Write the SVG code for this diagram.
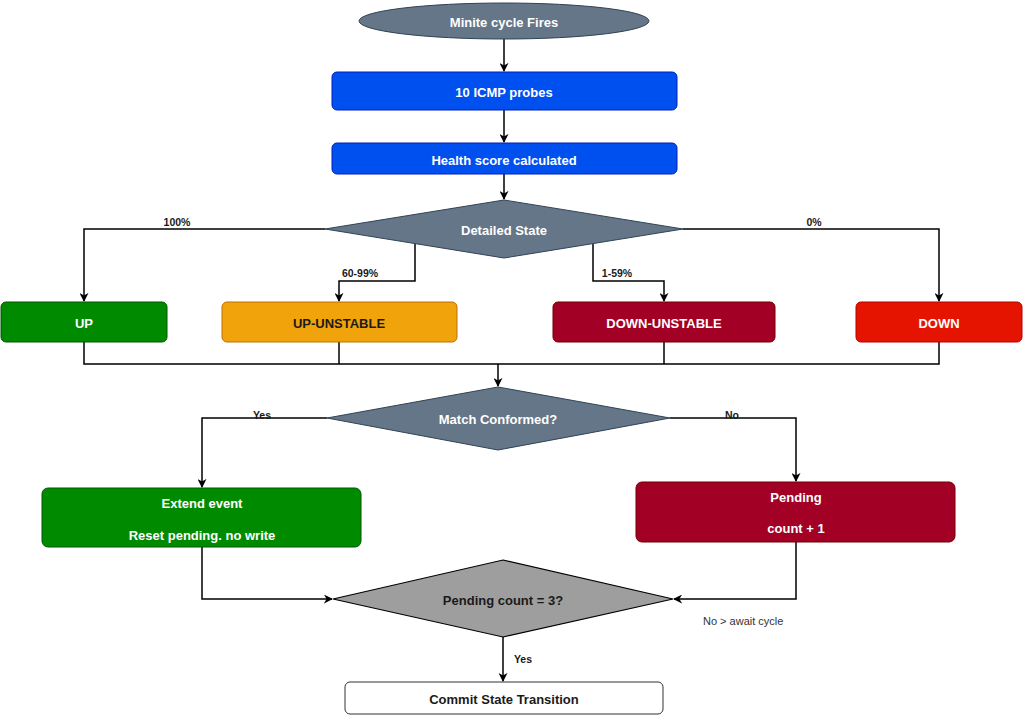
<svg xmlns="http://www.w3.org/2000/svg" width="1024" height="715" viewBox="0 0 1024 715">
<style>
text{font-family:"Liberation Sans",Arial,Helvetica,sans-serif;font-size:13px;font-weight:bold;text-anchor:middle;dominant-baseline:central}
.w{fill:#ffffff}
.d{fill:#1a1a1a}
.lbl{font-size:10.5px;fill:#1a1a1a}
.thin{font-weight:normal;font-size:11px;fill:#333333;text-anchor:start}
.c{fill:none;stroke:#000000;stroke-width:1.5}
</style>
<defs>
<marker id="ah" viewBox="0 0 10 10" refX="9" refY="5" markerWidth="9" markerHeight="9" markerUnits="userSpaceOnUse" orient="auto">
<path d="M0,0 L10,5 L0,10 L3,5 z" fill="#000"/>
</marker>
</defs>
<rect width="1024" height="715" fill="#ffffff"/>
<g id="connectors">
<path class="c" d="M504,39 V71" marker-end="url(#ah)"/>
<path class="c" d="M504,110 V142" marker-end="url(#ah)"/>
<path class="c" d="M504,174 V199" marker-end="url(#ah)"/>
<path class="c" d="M325,229 H84 V301" marker-end="url(#ah)"/>
<path class="c" d="M415,244 V281 H339 V301" marker-end="url(#ah)"/>
<path class="c" d="M593,244 V281 H664 V301" marker-end="url(#ah)"/>
<path class="c" d="M683,229 H939 V301" marker-end="url(#ah)"/>
<path class="c" d="M84,342 V364 H939 V342"/>
<path class="c" d="M339,342 V364"/>
<path class="c" d="M664,342 V364"/>
<path class="c" d="M498,364 V386" marker-end="url(#ah)"/>
<path class="c" d="M327,418 H202 V487" marker-end="url(#ah)"/>
<path class="c" d="M670,418 H796 V481" marker-end="url(#ah)"/>
<path class="c" d="M202,547 V599 H332" marker-end="url(#ah)"/>
<path class="c" d="M796,542 V599 H674" marker-end="url(#ah)"/>
<path class="c" d="M503,637 V681" marker-end="url(#ah)"/>
<text class="lbl" x="177" y="222">100%</text>
<text class="lbl" x="360" y="273">60-99%</text>
<text class="lbl" x="617" y="273">1-59%</text>
<text class="lbl" x="814" y="222">0%</text>
<text class="lbl" x="262" y="415">Yes</text>
<text class="lbl" x="732" y="415">No</text>
<text class="lbl" x="523" y="659">Yes</text>
<text class="thin" x="703" y="621">No &gt; await cycle</text>
</g>
<g id="start">
<ellipse cx="504" cy="21" rx="145" ry="18" fill="#647687" stroke="#314354"/>
<text class="w" x="504" y="22">Minite cycle Fires</text>
</g>
<g id="probes">
<rect x="332" y="72" width="345" height="38" rx="5" fill="#0050ef" stroke="#001DBC"/>
<text class="w" x="504" y="92">10 ICMP probes</text>
</g>
<g id="health">
<rect x="332" y="143" width="345" height="31" rx="5" fill="#0050ef" stroke="#001DBC"/>
<text class="w" x="504" y="160">Health score calculated</text>
</g>
<g id="detailed">
<polygon points="504,200 683,229 504,258 325,229" fill="#647687" stroke="#314354"/>
<text class="w" x="504" y="230">Detailed State</text>
</g>
<g id="up">
<rect x="1" y="302" width="166" height="40" rx="5" fill="#008a00" stroke="#005700"/>
<text class="w" x="84" y="323">UP</text>
</g>
<g id="upunstable">
<rect x="222" y="302" width="235" height="40" rx="5" fill="#f0a30a" stroke="#BD7000"/>
<text class="d" x="339" y="323">UP-UNSTABLE</text>
</g>
<g id="downunstable">
<rect x="553" y="302" width="222" height="40" rx="5" fill="#a20025" stroke="#6F0000"/>
<text class="w" x="664" y="323">DOWN-UNSTABLE</text>
</g>
<g id="down">
<rect x="856" y="302" width="166" height="40" rx="5" fill="#e51400" stroke="#B20000"/>
<text class="w" x="939" y="323">DOWN</text>
</g>
<g id="match">
<polygon points="498,387 670,418 498,450 327,418" fill="#647687" stroke="#314354"/>
<text class="w" x="498" y="419">Match Conformed?</text>
</g>
<g id="extend">
<rect x="42" y="488" width="319" height="59" rx="6" fill="#008a00" stroke="#005700"/>
<text class="w" x="202" y="503">Extend event</text>
<text class="w" x="202" y="535">Reset pending. no write</text>
</g>
<g id="pending">
<rect x="636" y="482" width="319" height="60" rx="6" fill="#a20025" stroke="#6F0000"/>
<text class="w" x="796" y="497">Pending</text>
<text class="w" x="796" y="528">count + 1</text>
</g>
<g id="pendingcount">
<polygon points="503,560 673,599 503,637 333,599" fill="#9e9e9e" stroke="#000000" stroke-width="1.2"/>
<text class="d" x="503" y="600">Pending count = 3?</text>
</g>
<g id="commit">
<rect x="345" y="682" width="318" height="32" rx="5" fill="#ffffff" stroke="#333333"/>
<text class="d" x="504" y="699">Commit State Transition</text>
</g>
</svg>
